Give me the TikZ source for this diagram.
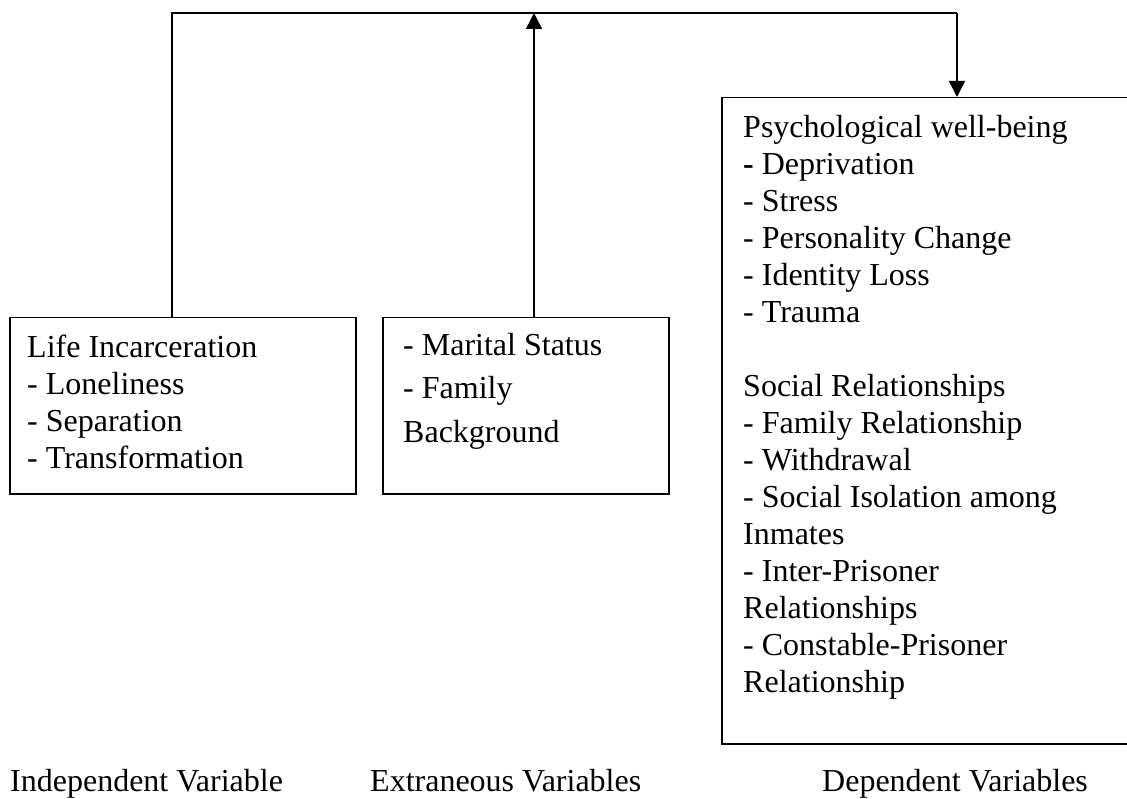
\documentclass[tikz,border=0pt]{standalone}
\usepackage{fontspec}
\setmainfont{Liberation Serif}
\usetikzlibrary{arrows.meta}
\tikzset{
  boxnode/.style={draw, line width=1.5pt, rectangle, anchor=north west, inner sep=0pt},
  txt/.style={anchor=north west, inner sep=0pt, align=left, font=\fontsize{32}{37}\selectfont},
  txtwide/.style={anchor=north west, inner sep=0pt, align=left, font=\fontsize{32}{43.5}\selectfont},
  label/.style={anchor=base west, inner sep=0pt, font=\fontsize{32}{37}\selectfont},
  conn/.style={line width=1.5pt},
  arr/.style={line width=1.5pt, -{Triangle[width=16pt,length=16pt]}}
}
\begin{document}
\begin{tikzpicture}[x=1pt,y=-1pt]
\useasboundingbox (0,0) rectangle (1127,799);
\clip (0,0) rectangle (1127,799);
% boxes
\node[boxnode, minimum width=346pt, minimum height=176pt] (box1) at (9,317) {};
\node[boxnode, minimum width=286pt, minimum height=176pt] (box2) at (382,317) {};
\node[boxnode, minimum width=430pt, minimum height=646pt] (box3) at (721,97) {};
% top line coordinates
\coordinate (c1) at (172,13);
\coordinate (c2) at (534,13);
\coordinate (c3) at (957,13);
% connectors
\draw[conn] (box1.north -| c1) -- (c1) -- (c3);
\draw[arr] (c3) -- (box3.north -| c3);
\draw[arr] (box2.north -| c2) -- (c2);
% texts
\node[txt] (t1) at (27,331) {\strut Life Incarceration\\\strut - Loneliness\\\strut - Separation\\\strut - Transformation};
\node[txtwide] (t2) at (403,324.5) {\strut - Marital Status\\\strut - Family\\\strut Background};
\node[txt] (t3) at (743,111) {\strut Psychological well-being\\\strut \textbf{-} Deprivation\\\strut - Stress\\\strut - Personality Change\\\strut - Identity Loss\\\strut - Trauma\\\strut\\\strut Social Relationships\\\strut - Family Relationship\\\strut - Withdrawal\\\strut - Social Isolation among\\\strut Inmates\\\strut - Inter-Prisoner\\\strut Relationships\\\strut - Constable-Prisoner\\\strut Relationship};
% bottom labels
\node[label] (l1) at (10,791) {Independent Variable};
\node[label] (l2) at (370,791) {Extraneous Variables};
\node[label] (l3) at (822,791) {Dependent Variables};
\end{tikzpicture}
\end{document}
